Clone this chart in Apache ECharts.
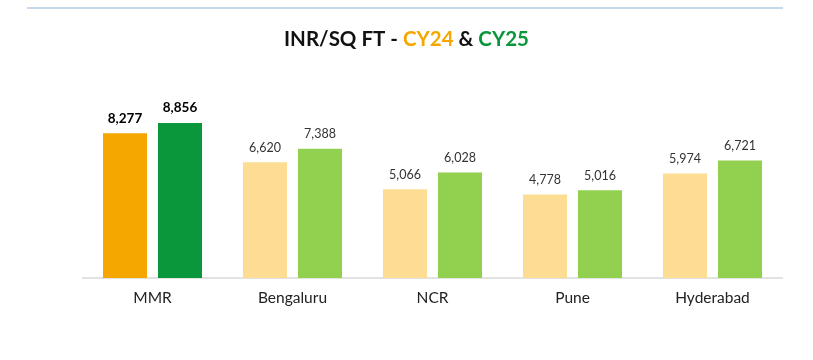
<!DOCTYPE html>
<html><head><meta charset="utf-8">
<script src="https://cdn.jsdelivr.net/npm/echarts@6/dist/echarts.min.js"></script>
<style>html,body{margin:0;padding:0;background:#fff}#c{width:813px;height:360px}</style>
</head><body><div id="c"></div>
<script>
const categories = ['MMR', 'Bengaluru', 'NCR', 'Pune', 'Hyderabad'];
const cy24 = [8277, 6620, 5066, 4778, 5974];
const cy25 = [8856, 7388, 6028, 5016, 6721];
const cy24Colors = ['#f5a700', '#fddc94', '#fddc94', '#fddc94', '#fddc94'];
const cy25Colors = ['#0a963a', '#92d050', '#92d050', '#92d050', '#92d050'];

const font = 'Lato, "Noto Sans", sans-serif';
function mk(vals, colors) {
  return vals.map((v, i) => ({
    value: v,
    itemStyle: { color: colors[i] },
    label: i === 0 ? { fontWeight: 'bold', color: '#000', fontSize: 13.5 } : {}
  }));
}
const chart = echarts.init(document.getElementById('c'), null, { renderer: 'canvas' });
chart.setOption({
  animation: false,
  title: {
    text: '{a|INR/SQ FT - }{b|CY24}{a| & }{c|CY25}',
    left: 'center', top: 24,
    textStyle: {
      rich: {
        a: { fontFamily: font, fontWeight: 'bold', fontSize: 20.5, color: '#111' },
        b: { fontFamily: font, fontWeight: 'bold', fontSize: 20.5, color: '#f5a700' },
        c: { fontFamily: font, fontWeight: 'bold', fontSize: 20.5, color: '#0a963a' }
      }
    }
  },
  graphic: [{
    type: 'line', shape: { x1: 27, y1: 8, x2: 783, y2: 8 },
    style: { stroke: '#c6d9ec', lineWidth: 2 }
  }],
  grid: { left: 82.5, right: 30.5, top: 103, bottom: 82 },
  xAxis: {
    type: 'category', data: categories,
    axisLine: { lineStyle: { color: '#d9d9d9', width: 1.5 } },
    axisTick: { show: false },
    axisLabel: { color: '#222', fontSize: 15.5, fontFamily: font, margin: 12 }
  },
  yAxis: { type: 'value', min: 0, max: 10000, show: false, splitLine: { show: false } },
  series: [
    {
      name: 'CY24', type: 'bar', data: mk(cy24, cy24Colors),
      barWidth: 44, barGap: '25%',
      label: { show: true, position: 'top', distance: 8, fontFamily: font, fontSize: 12.5, color: '#333',
        formatter: p => p.value.toLocaleString('en-US') }
    },
    {
      name: 'CY25', type: 'bar', data: mk(cy25, cy25Colors),
      barWidth: 44, barGap: '25%',
      label: { show: true, position: 'top', distance: 8, fontFamily: font, fontSize: 12.5, color: '#333',
        formatter: p => p.value.toLocaleString('en-US') }
    }
  ]
});
</script></body></html>
